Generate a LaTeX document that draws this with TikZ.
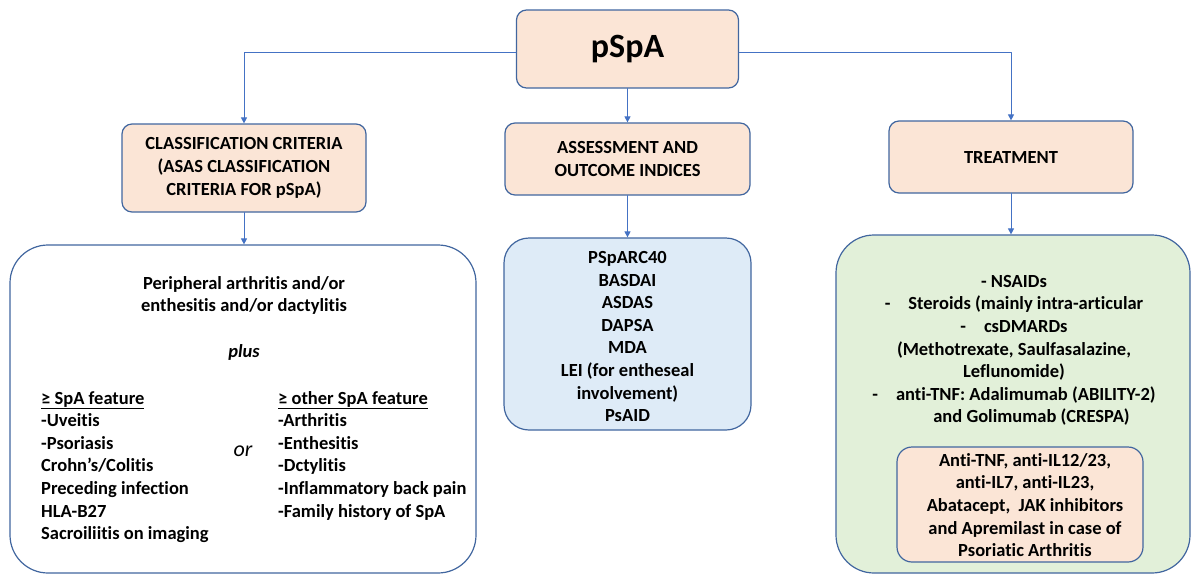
\documentclass[tikz,border=0pt]{standalone}
\usepackage{fontspec}
\setmainfont{Carlito}[Ligatures=NoCommon]
\usepackage{tikz}
\usetikzlibrary{arrows.meta,positioning}
\definecolor{edge}{HTML}{41669F}
\definecolor{linkblue}{HTML}{4472C4}
\definecolor{peach}{HTML}{FBE5D6}
\definecolor{paleblue}{HTML}{DEEBF7}
\definecolor{palegreen}{HTML}{E2F0D9}
\tikzset{
    every picture/.style={line cap=round,line join=round},
    headbox/.style={draw=edge,fill=peach,line width=1.2pt,rounded corners=10pt,
      inner sep=0pt,font=\bfseries\fontsize{18.5}{23}\selectfont,align=center},
    listbox/.style={draw=edge,line width=1.2pt,inner sep=0pt},
    listtext/.style={inner sep=0pt,font=\bfseries\fontsize{18.5}{22.6}\selectfont},
    link/.style={draw=linkblue,line width=0.9pt,
      -{Triangle[length=6pt,width=6pt]}}
}

\begin{document}
\begin{tikzpicture}[x=1pt,y=-1pt]
  \useasboundingbox (0,0) rectangle (1192,576);
  % top level
  \node[headbox,minimum width=222pt,minimum height=78pt,
    font=\bfseries\fontsize{34}{38}\selectfont] (top) at (627.5,49) {pSpA};
  \node[headbox,minimum width=244pt,minimum height=88pt] (cls) at (244,168)
    {CLASSIFICATION CRITERIA\\(ASAS CLASSIFICATION\\CRITERIA FOR pSpA)};
  \node[headbox,minimum width=245pt,minimum height=72pt] (assess) at (627.5,159)
    {ASSESSMENT AND\\OUTCOME INDICES};
  \node[headbox,minimum width=244pt,minimum height=72pt] (treat) at (1011,157)
    {TREATMENT};
  % lower boxes
  \node[listbox,fill=white,rounded corners=38pt,minimum width=466pt,
    minimum height=328pt] (crit) at (243,409) {};
  \node[listbox,fill=paleblue,rounded corners=25pt,minimum width=247pt,
    minimum height=192pt] (ind) at (627.5,334) {};
  \node[listbox,fill=palegreen,rounded corners=38pt,minimum width=354pt,
    minimum height=338pt] (ther) at (1013,404) {};
  \node[listbox,fill=peach,rounded corners=15pt,minimum width=246pt,
    minimum height=115pt] (psa) at (1020,504.5) {};
  % criteria text
  \node[listtext,align=center] (periph) at (244,295.5)
    {Peripheral arthritis and/or\\enthesitis and/or dactylitis};
  \node[listtext,font=\bfseries\itshape\fontsize{18.5}{22.6}\selectfont] (plus) at (244,352) {plus};
  \node[listtext,align=left,anchor=west] (spa) at (41,467)
    {\underline{≥ SpA feature}\\-Uveitis\\-Psoriasis\\Crohn’s/Colitis\\Preceding infection\\HLA-B27\\Sacroiliitis on imaging};
  \node[inner sep=0pt,font=\itshape\fontsize{22}{24}\selectfont] (or) at (243,451) {or};
  \node[listtext,align=left,anchor=west] (other) at (278,455.5)
    {\underline{≥ other SpA feature}\\-Arthritis\\-Enthesitis\\-Dctylitis\\-Inflammatory back pain\\-Family history of SpA};
  % indices text
  \node[listtext,align=center] (idx) at (627.5,336.5)
    {PSpARC40\\BASDAI\\ASDAS\\DAPSA\\MDA\\LEI (for entheseal\\involvement)\\PsAID};
  % treatment text
  \node[listtext,align=center] (drugs) at (1014,350.5)
    {- NSAIDs\\-\hspace{18pt}Steroids (mainly intra-articular\\-\hspace{18pt}csDMARDs\\(Methotrexate, Saulfasalazine,\\Leflunomide)\\-\hspace{18pt}anti-TNF: Adalimumab (ABILITY-2)\\\hspace{35pt}and Golimumab (CRESPA)};
  \node[listtext,align=center] (psatext) at (1025,505)
    {Anti-TNF, anti-IL12/23,\\anti-IL7, anti-IL23,\\Abatacept,\ \ JAK inhibitors\\and Apremilast in case of\\Psoriatic Arthritis};
  % connectors
  \draw[link] ([yshift=-3pt]top.west) -| (cls.north);
  \draw[link] (top.south) -- (assess.north);
  \draw[link] ([yshift=-3pt]top.east) -| (treat.north);
  \draw[link] (cls.south) -- (cls.south |- crit.north);
  \draw[link] (assess.south) -- (assess.south |- ind.north);
  \draw[link] (treat.south) -- (treat.south |- ther.north);
\end{tikzpicture}
\end{document}
